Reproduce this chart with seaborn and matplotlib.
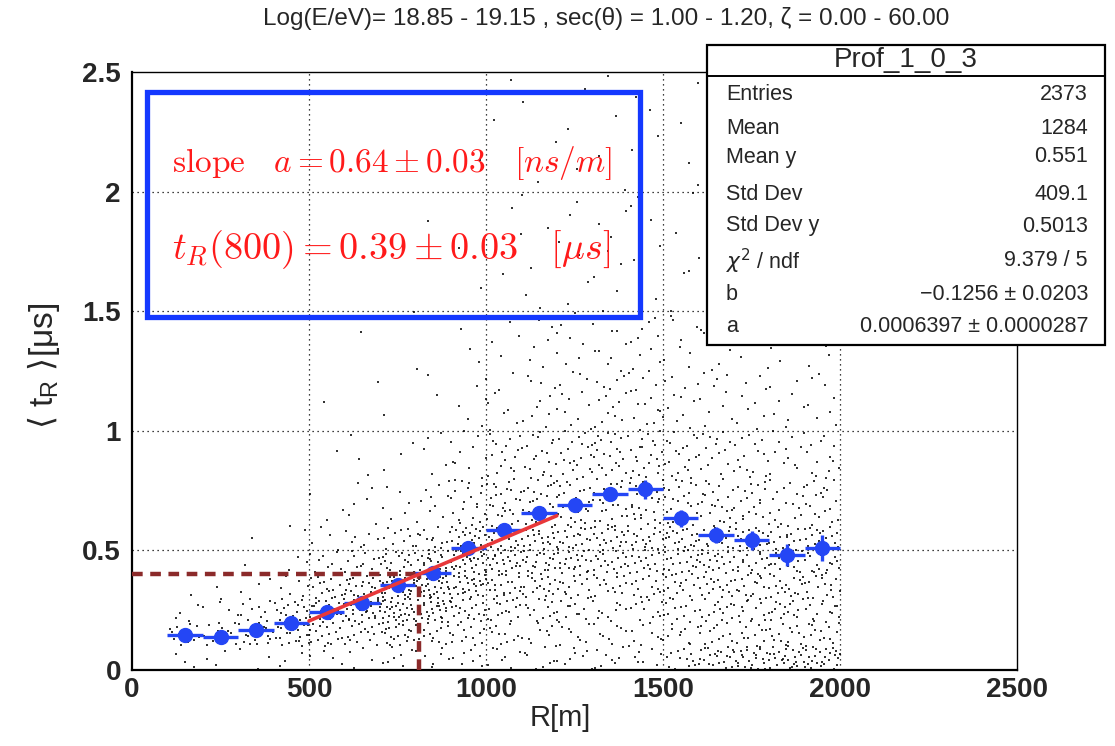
import numpy as np
import pandas as pd
import matplotlib
matplotlib.use("Agg")
import matplotlib.pyplot as plt
from matplotlib.patches import Rectangle
from matplotlib.lines import Line2D
from matplotlib.ticker import MultipleLocator
import seaborn as sns
from matplotlib import font_manager

# ---------------- data ----------------
title = "Log(E/eV)= 18.85 - 19.15 , sec(\u03b8) = 1.00 - 1.20, \u03b6 = 0.00 - 60.00"

# profile (blue points)
prof_x = [150, 250, 350, 450, 550, 650, 750, 850, 950, 1050,
          1150, 1250, 1350, 1450, 1550, 1650, 1750, 1850, 1950]
prof_y = [0.146, 0.137, 0.167, 0.195, 0.244, 0.281, 0.355, 0.407, 0.509, 0.585,
          0.655, 0.690, 0.736, 0.755, 0.634, 0.564, 0.543, 0.481, 0.509]
prof_yerr = [0.012, 0.012, 0.013, 0.014, 0.016, 0.017, 0.018, 0.019, 0.021, 0.022,
             0.024, 0.026, 0.030, 0.040, 0.035, 0.035, 0.040, 0.045, 0.055]
prof_xerr = 50

# linear fit (red line)
fit_x = [500, 1200]
fit_y = [0.205, 0.645]

# marker lines at R = 800 m
ref_x = 810
ref_y = 0.40

# scatter density: counts per cell, columns = x bins of 100 m (100..2000)
scat_x_edges = [100, 200, 300, 400, 500, 600, 700, 800, 900, 1000,
                1100, 1200, 1300, 1400, 1500, 1600, 1700, 1800, 1900, 2000]
scat_y_edges = [0.0, 0.1, 0.2, 0.3, 0.4, 0.5, 0.6, 0.8, 1.0, 1.25, 1.5, 2.0, 2.5]
band_00_01 = [3, 3, 3, 3, 4, 4, 8, 8, 7, 7, 7, 8, 8, 9, 12, 22, 24, 26, 26]
band_01_02 = [12, 13, 18, 20, 18, 15, 20, 16, 12, 10, 9, 8, 8, 8, 10, 12, 12, 14, 13]
band_02_03 = [4, 5, 10, 18, 25, 28, 32, 28, 20, 16, 13, 12, 10, 10, 12, 14, 14, 15, 14]
band_03_04 = [1, 1, 3, 6, 15, 22, 32, 32, 26, 20, 17, 15, 14, 13, 15, 16, 16, 16, 15]
band_04_05 = [0, 0, 1, 3, 8, 12, 18, 25, 28, 24, 21, 20, 18, 17, 18, 18, 18, 17, 16]
band_05_06 = [0, 0, 1, 1, 4, 7, 10, 14, 22, 22, 22, 20, 19, 18, 20, 18, 18, 16, 16]
band_06_08 = [0, 0, 0, 1, 3, 6, 6, 10, 20, 26, 26, 26, 26, 25, 24, 22, 20, 18, 18]
band_08_10 = [0, 0, 0, 0, 1, 3, 3, 5, 10, 16, 19, 20, 22, 22, 18, 16, 15, 12, 13]
band_10_125 = [0, 0, 0, 0, 1, 1, 1, 2, 5, 9, 11, 13, 15, 15, 12, 10, 9, 8, 8]
band_125_15 = [0, 0, 0, 0, 0, 1, 1, 1, 3, 5, 7, 8, 10, 10, 8, 6, 6, 5, 5]
band_15_20 = [0, 0, 0, 0, 0, 0, 0, 1, 2, 3, 5, 6, 7, 7, 5, 4, 3, 3, 3]
band_20_25 = [0, 0, 0, 0, 0, 0, 0, 0, 1, 2, 3, 3, 4, 5, 3, 2, 2, 1, 2]

stats_labels = ["Entries", "Mean", "Mean y", "Std Dev", "Std Dev y",
                "$\\chi^{2}$ / ndf", "b", "a"]
stats_values = ["2373", "1284", "0.551", "409.1", "0.5013", "9.379 / 5",
                "\u22120.1256 \u00b1 0.0203", "0.0006397 \u00b1 0.0000287"]
stats_title = "Prof_1_0_3"

# ---------------- style ----------------
sns.set_style("white")
avail = {f.name for f in font_manager.fontManager.ttflist}
narrow = "Liberation Sans Narrow" if "Liberation Sans Narrow" in avail else "Liberation Sans"
FAM = [narrow, "Liberation Sans", "DejaVu Sans"]
plt.rcParams["font.family"] = ["Liberation Sans", "DejaVu Sans"]
plt.rcParams["mathtext.default"] = "it"

W, H = 1115, 746
fig = plt.figure(figsize=(W / 100, H / 100), dpi=100)
ax = fig.add_axes([132 / W, 1 - 670 / H, (1017 - 132) / W, (670 - 72) / H])


def halton(i, b):
    f, r = 1.0, 0.0
    while i > 0:
        f /= b
        r += f * (i % b)
        i //= b
    return r


bands = [band_00_01, band_01_02, band_02_03, band_03_04, band_04_05, band_05_06,
         band_06_08, band_08_10, band_10_125, band_125_15, band_15_20, band_20_25]
xs, ys = [], []
k = 1
for j, band in enumerate(bands):
    y0, y1 = scat_y_edges[j], scat_y_edges[j + 1]
    for i, n in enumerate(band):
        x0, x1 = scat_x_edges[i], scat_x_edges[i + 1]
        for _ in range(n):
            xs.append(x0 + (x1 - x0) * halton(k, 2))
            ys.append(y0 + (y1 - y0) * halton(k, 3))
            k += 1
scat = pd.DataFrame({"R": xs, "t": ys})

sns.scatterplot(data=scat, x="R", y="t", ax=ax, marker="s", s=3.5,
                color="black", linewidth=0, alpha=0.8, zorder=2)

# grid
for gx in [500, 1000, 1500, 2000]:
    ax.axvline(gx, color="black", lw=0.9, ls=(0, (1, 3)), zorder=1)
for gy in [0.5, 1.0, 1.5, 2.0]:
    ax.axhline(gy, color="black", lw=0.9, ls=(0, (1, 3)), zorder=1)

# dashed reference lines
ax.plot([0, ref_x], [ref_y, ref_y], color="#8b2a2a", lw=3.2, ls=(0, (2.4, 1.7)), zorder=3)
ax.plot([ref_x, ref_x], [0, ref_y], color="#8b2a2a", lw=3.2, ls=(0, (2.4, 1.7)), zorder=3)

# profile points
ax.errorbar(prof_x, prof_y, xerr=prof_xerr, yerr=prof_yerr, fmt="o",
            color="#2446f5", ms=10, elinewidth=2.4, capsize=0, zorder=4)

# fit line
fit = pd.DataFrame({"R": fit_x, "t": fit_y})
sns.lineplot(data=fit, x="R", y="t", ax=ax, color="#e8383a", lw=2.6, zorder=5)

ax.set_xlim(0, 2500)
ax.set_ylim(0, 2.5)
ax.xaxis.set_minor_locator(MultipleLocator(100))
ax.yaxis.set_minor_locator(MultipleLocator(0.1))
ax.tick_params(axis="both", which="both", direction="in", top=False, right=False,
               color="black")
ax.tick_params(axis="x", which="major", length=14, width=1.2, labelsize=20, pad=5)
ax.tick_params(axis="x", which="minor", length=6, width=1.0)
ax.tick_params(axis="y", which="major", length=10, width=1.2, labelsize=20, pad=8)
ax.tick_params(axis="y", which="minor", length=5, width=1.0)
ax.set_xticks([0, 500, 1000, 1500, 2000, 2500])
ax.set_xticklabels(["0", "500", "1000", "1500", "2000", "2500"])
ax.set_yticks([0, 0.5, 1.0, 1.5, 2.0, 2.5])
ax.set_yticklabels(["0", "0.5", "1", "1.5", "2", "2.5"])
for lab in ax.get_xticklabels() + ax.get_yticklabels():
    lab.set_fontweight("bold")
    lab.set_family(FAM)
for sp in ax.spines.values():
    sp.set_color("black")
    sp.set_linewidth(1.0)
ax.spines["left"].set_linewidth(1.6)
ax.spines["bottom"].set_linewidth(1.6)

ax.set_xlabel("R[m]", fontsize=21, family=FAM)
ax.xaxis.set_label_coords((560 - 132) / 885, -(704 - 670) / 598)
ax.set_ylabel("$\\langle$ t$_{\\mathregular{R}}$ $\\rangle$[\u03bcs]", fontsize=24,
              family=FAM)
ax.yaxis.set_label_coords(-(132 - 62) / 885, (670 - 366) / 598)

# title
fig.text(606 / W, 1 - 19 / H, title, ha="center", va="center", fontsize=17.5,
         family=FAM)

# blue annotation box (unfilled)
ax.add_patch(Rectangle((15 / 885, (670 - 317) / 598), (640 - 147) / 885, (317 - 92) / 598,
                       transform=ax.transAxes, fill=False, edgecolor="#1438ff",
                       lw=3.8, zorder=6, clip_on=False))
ax.text(40 / 885, (670 - 163) / 598,
        r"$\mathrm{slope}\quad a = 0.64 \pm 0.03\quad [ns/m]$",
        transform=ax.transAxes, color="#ff1a1a", fontsize=24, va="center", ha="left",
        math_fontfamily="cm", zorder=7)
ax.text(40 / 885, (670 - 250) / 598,
        r"$t_R(800) = 0.39 \pm 0.03\quad [\mu s]$",
        transform=ax.transAxes, color="#ff1a1a", fontsize=27.5, va="center", ha="left",
        math_fontfamily="cm", zorder=7)

# stats box (figure coords)
bx0, bx1, by0, by1 = 707, 1105, 45, 345
fig.add_artist(Rectangle((bx0 / W, 1 - by1 / H), (bx1 - bx0) / W, (by1 - by0) / H,
                         transform=fig.transFigure, facecolor="white",
                         edgecolor="black", lw=1.6, zorder=10))
fig.add_artist(Line2D([bx0 / W, bx1 / W], [1 - 76 / H, 1 - 76 / H],
                      transform=fig.transFigure, color="black", lw=1.4, zorder=11))
fig.text((bx0 + bx1) / 2 / W, 1 - 60 / H, stats_title, ha="center", va="center",
         fontsize=20, family=FAM, zorder=12)
row_y = [95, 128, 157, 194, 226, 261, 294, 326]
for lab, val, ry in zip(stats_labels, stats_values, row_y):
    fig.text(726 / W, 1 - ry / H, lab, ha="left", va="center", fontsize=15.5,
             family=FAM, math_fontfamily="dejavusans", zorder=12)
    fig.text(1088 / W, 1 - ry / H, val, ha="right", va="center", fontsize=15.5,
             family=FAM, zorder=12)

fig.savefig("out.png", dpi=100)
